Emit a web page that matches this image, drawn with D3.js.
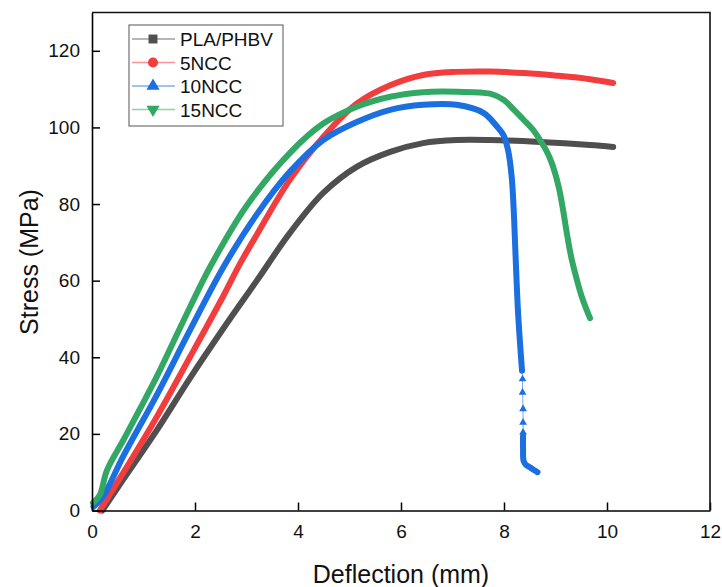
<!DOCTYPE html>
<html>
<head>
<meta charset="utf-8">
<script src="https://cdn.jsdelivr.net/npm/d3@7"></script>
<style>
  body { margin: 0; background: #fff; }
  text { font-family: "Liberation Sans", Arial, sans-serif; }
</style>
</head>
<body>
<svg id="chart" width="722" height="587"></svg>
<script>
// values, [deflection mm, stress MPa]
const plaPhbv = [[0.2,0],[0.6,8],[1.26,21],[1.9,34.5],[2.55,47.5],[3.2,60],[3.84,72.4],[4.49,82.9],
  [5.14,89.7],[5.79,93.6],[6.43,95.9],[7.08,96.7],[7.73,96.7],[8.7,96.2],[9.67,95.4],[10.12,94.9]];
const ncc5 = [[0.15,0],[0.6,9.7],[1.26,24.5],[1.9,40],[2.55,56],[2.87,64.3],[3.2,72],[3.84,86.3],[4.49,97.5],
  [5.14,106.2],[5.79,111],[6.43,113.7],[7.08,114.5],[7.73,114.6],[8.38,114.2],[9.03,113.5],[9.67,112.6],[10.12,111.6]];
const ncc10 = [[0.03,1],[0.21,3.5],[0.6,14],[1.26,30.2],[1.9,47],[2.55,63.5],[3.2,77.3],[3.84,88.4],
  [4.49,96.7],[5.14,101.4],[5.79,104.6],[6.43,105.9],[7.08,105.9],[7.6,103.8],[7.86,100.3],[7.99,98],
  [8.08,94],[8.15,87],[8.19,78],[8.22,68],[8.27,52.4],[8.32,42],[8.35,36.5]];
const ncc10Sparse = [[8.36,34.3],[8.36,30.8],[8.37,26.5],[8.37,23],[8.37,20.4]];
const ncc10Tail = [[8.37,19.5],[8.37,16],[8.38,13],[8.42,12],[8.5,11.3],[8.58,10.6],[8.65,10]];
const ncc15 = [[0.02,2],[0.15,4],[0.29,10.5],[0.61,18.4],[0.93,26.5],[1.26,35],[1.58,44],[1.9,53],
  [2.29,63.5],[3.0,79.5],[3.84,93.3],[4.49,101],[5.14,105.4],[5.79,108],[6.43,109.2],[7.08,109.3],
  [7.73,108.8],[7.99,107.2],[8.2,104.5],[8.38,102],[8.55,99.6],[8.7,96.7],[8.82,94],[8.92,91],
  [9.0,87.7],[9.07,84],[9.14,79],[9.22,72.4],[9.3,66.5],[9.4,61],[9.51,55.8],[9.67,50.2]];

const names = ["PLA/PHBV", "5NCC", "10NCC", "15NCC"];
const colors = ["#4f4f4f", "#f23d3f", "#1c6fe0", "#33a865"];
const symbols = [d3.symbolSquare, d3.symbolCircle, d3.symbolTriangle, d3.symbolTriangle];
const xTicks = [0, 2, 4, 6, 8, 10, 12];
const yTicks = [0, 20, 40, 60, 80, 100, 120];

const svg = d3.select("#chart");
const mLeft = 92, mRight = 710, mTop = 12.5, mBottom = 510.5;

const x = d3.scaleLinear().domain([0, 12]).range([mLeft, mRight]);
const y = d3.scaleLinear().domain([0, 130]).range([mBottom, mTop]);

let line = d3.line()
  .x(d => x(d[0]))
  .y(d => y(d[1]))
  .curve(d3.curveCatmullRom.alpha(0.5));

// curves
let series = [plaPhbv, ncc5, ncc10, ncc15];
series.forEach((s, i) => {
  svg.append("path")
    .attr("d", line(s))
    .attr("fill", "none")
    .attr("stroke", colors[i])
    .attr("stroke-width", 6)
    .attr("stroke-linecap", "round")
    .attr("stroke-linejoin", "round");
});

// 10NCC: sparse part of the drop and dense tail
svg.append("path")
  .attr("d", line([ncc10[ncc10.length - 1]].concat(ncc10Sparse, ncc10Tail.slice(0, 1))))
  .attr("fill", "none")
  .attr("stroke", colors[2])
  .attr("stroke-opacity", 0.6)
  .attr("stroke-width", 1);
svg.append("path")
  .attr("d", line(ncc10Tail))
  .attr("fill", "none")
  .attr("stroke", colors[2])
  .attr("stroke-width", 6)
  .attr("stroke-linecap", "round")
  .attr("stroke-linejoin", "round");
svg.selectAll(".sparse")
  .data(ncc10Sparse)
  .enter()
  .append("path")
  .attr("class", "sparse")
  .attr("transform", d => "translate(" + x(d[0]) + "," + y(d[1]) + ")")
  .attr("d", d3.symbol().type(d3.symbolTriangle).size(26))
  .attr("fill", colors[2]);

// axes, ticks pointing inward
svg.append("g")
  .attr("transform", "translate(0," + mBottom + ")")
  .call(d3.axisBottom(x).tickValues(xTicks).tickSize(-8).tickPadding(14).tickSizeOuter(0))
  .call(g => g.select(".domain").attr("stroke-width", 1.6))
  .call(g => g.selectAll(".tick line").attr("stroke-width", 1.5))
  .call(g => g.selectAll("text").attr("font-size", 19).attr("fill", "#111")
    .attr("font-family", "Liberation Sans, Arial, sans-serif"));

svg.append("g")
  .attr("transform", "translate(" + mLeft + ",0)")
  .call(d3.axisLeft(y).tickValues(yTicks).tickSize(-8).tickPadding(12).tickSizeOuter(0))
  .call(g => g.select(".domain").attr("stroke-width", 1.6))
  .call(g => g.selectAll(".tick line").attr("stroke-width", 1.5))
  .call(g => g.selectAll("text").attr("font-size", 19).attr("fill", "#111")
    .attr("font-family", "Liberation Sans, Arial, sans-serif"));

// frame top and right
svg.append("path")
  .attr("d", "M" + mLeft + "," + mTop + "H" + mRight + "V" + mBottom)
  .attr("fill", "none")
  .attr("stroke", "#111")
  .attr("stroke-width", 1.6);

// axis titles
svg.append("text")
  .attr("x", 401)
  .attr("y", 583)
  .attr("text-anchor", "middle")
  .attr("font-size", 25)
  .attr("fill", "#111")
  .text("Deflection (mm)");

svg.append("text")
  .attr("transform", "translate(38,262) rotate(-90)")
  .attr("text-anchor", "middle")
  .attr("font-size", 25)
  .attr("fill", "#111")
  .text("Stress (MPa)");

// legend
let legend = svg.append("g");
legend.append("rect")
  .attr("x", 129).attr("y", 25)
  .attr("width", 154).attr("height", 101)
  .attr("fill", "#fff")
  .attr("stroke", "#555")
  .attr("stroke-width", 1);

names.forEach((d, i) => {
  let ly = 39 + i * 23.5;
  legend.append("line")
    .attr("x1", 132).attr("x2", 175)
    .attr("y1", ly).attr("y2", ly)
    .attr("stroke", colors[i])
    .attr("stroke-opacity", 0.55)
    .attr("stroke-width", 1.3);
  legend.append("path")
    .attr("transform", "translate(153," + ly + ")" + (i == 3 ? " rotate(180)" : ""))
    .attr("d", d3.symbol().type(symbols[i]).size(i < 2 ? 80 : 75))
    .attr("fill", colors[i]);
  legend.append("text")
    .attr("x", 180)
    .attr("y", ly + 7)
    .attr("font-size", 19)
    .attr("fill", "#111")
    .text(d);
});
</script>
</body>
</html>
